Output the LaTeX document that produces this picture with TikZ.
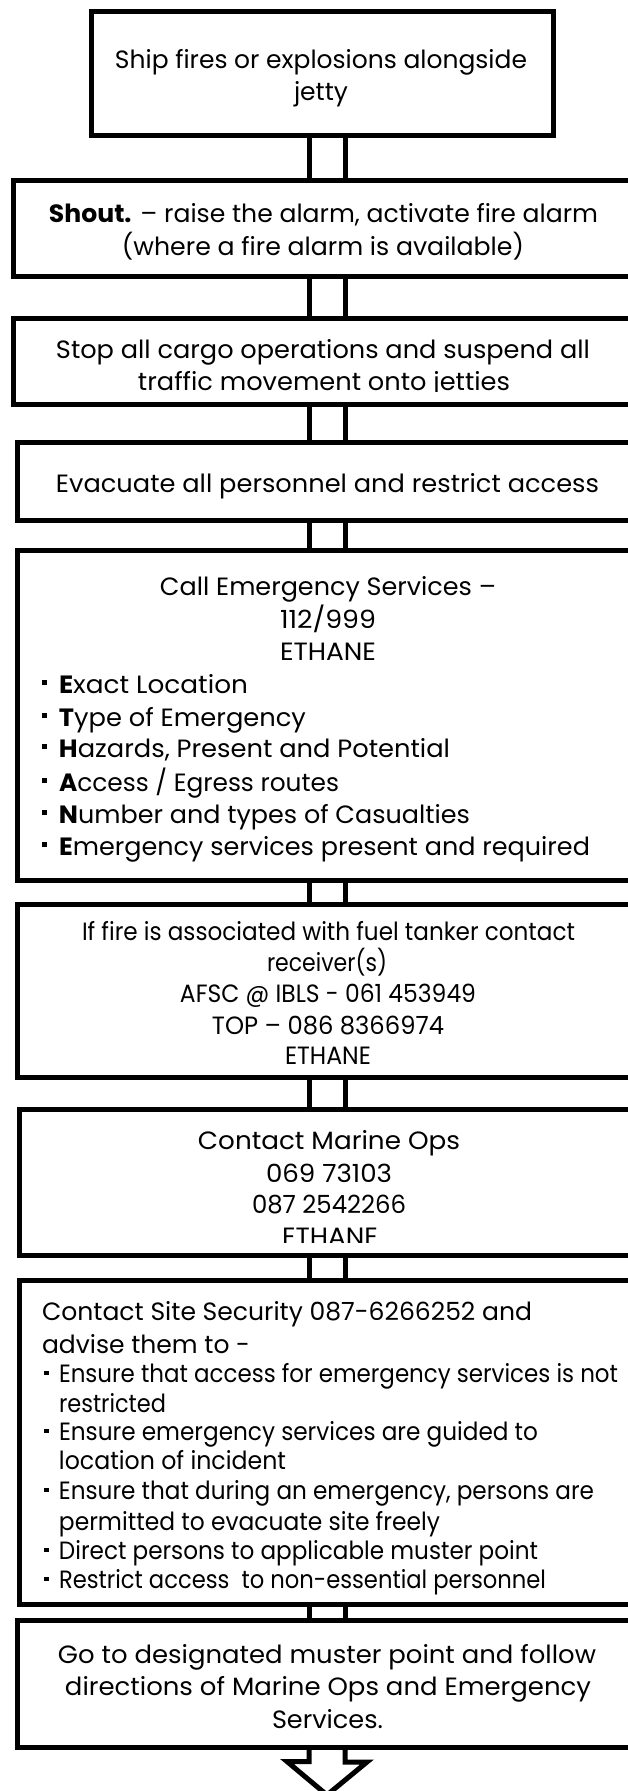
\documentclass[tikz,border=0pt]{standalone}
\usepackage{fontspec}
\usepackage{graphicx}
\setmainfont{Poppins}
\newcommand\flowbox[5]{\node[box, minimum width={(#4)-(#2)}, minimum height={(#5)-(#3)}] (#1) at ({((#2)+(#4))/2},{((#3)+(#5))/2}) {};}
\newcommand\tline[4]{\node[txt, anchor=base] (#1) at (#2) {\resizebox{#3pt}{\height}{#4}};}
\newcommand\lline[4]{\node[txt, anchor=base west] (#1) at (#2) {\resizebox{#3pt}{\height}{#4}};}
\newcommand\bline[5]{\node[txt, anchor=base west] (#1) at (#2) {#5\resizebox{#3pt}{\height}{#4}};}
\newcommand\bigbul{\llap{\rule[8pt]{5pt}{5pt}\hspace{12pt}}}
\newcommand\smbul{\llap{\rule[7pt]{4.5pt}{4.5pt}\hspace{10.5pt}}}
\tikzset{
  box/.style={draw, line width=5pt, inner sep=0pt, outer sep=0pt, fill=white},
  txt/.style={inner sep=0pt, outer sep=0pt, font=\fontsize{25}{30}\selectfont},
  mid/.style={font=\fontsize{22}{27}\selectfont},
  sml/.style={font=\fontsize{19.5}{24}\selectfont},
  conn/.style={line width=5pt, line join=miter}
}
\begin{document}
\begin{tikzpicture}[x=1pt,y=-1pt]
\useasboundingbox (0,0) rectangle (628,1791);
\begin{scope}
\clip (0,0) rectangle (628,1791);
\flowbox{b1}{91}{11.5}{553}{135.5}
\flowbox{b2}{13.5}{180.5}{640.5}{276}
\flowbox{b3}{13.5}{318}{640.5}{404}
\flowbox{b4}{17.5}{442}{636.5}{520.5}
\flowbox{b5}{17.5}{550}{636.5}{880}
\flowbox{b6}{17.5}{904}{636.5}{1077}
\flowbox{b7}{19.5}{1109}{634.5}{1255.5}
\flowbox{b8}{19.5}{1280}{634.5}{1604}
\flowbox{b9}{17.5}{1620.5}{636.5}{1747}
\coordinate (SL) at (309,0);
\coordinate (SR) at (345,0);
\coordinate (tip) at (327,1795);
\foreach \a/\b in {b1/b2,b2/b3,b3/b4,b4/b5,b5/b6,b6/b7,b7/b8,b8/b9}{
  \draw[conn] (\a.south -| SL) -- (\b.north -| SL);
  \draw[conn] (\a.south -| SR) -- (\b.north -| SR);
}
\draw[conn] (b9.south -| SL) -- ++(0,14.5) -- ++(-22,0) -- (tip) -- ++(40,-33) -- ++(-22,0) -- (b9.south -| SR);
% box 1
\tline{t1a}{321,68}{412}{Ship fires or explosions alongside}
\tline{t1b}{321,100}{54}{jetty}
% box 2
\tline{t2a}{323.5,222}{549}{\textbf{Shout.} – raise the alarm, activate fire alarm}
\tline{t2b}{323,255}{402}{(where a fire alarm is available)}
% box 3
\tline{t3a}{323,358}{534}{Stop all cargo operations and suspend all}
\begin{scope}
\clip (0,0) rectangle (628,391.5);
\tline{t3b}{324,390}{372}{traffic movement onto jetties}
\end{scope}
% box 4
\tline{t4a}{327.5,492}{543}{Evacuate all personnel and restrict access}
% box 5
\tline{t5a}{328,595}{336}{Call Emergency Services –}
\tline{t5b}{328,628}{96}{112/999}
\tline{t5c}{328,660}{96}{ETHANE}
\bline{t5d}{59,693}{189}{\textbf{E}xact Location}{\bigbul}
\bline{t5e}{59,726}{247}{\textbf{T}ype of Emergency}{\bigbul}
\bline{t5f}{59,757}{391}{\textbf{H}azards, Present and Potential}{\bigbul}
\bline{t5g}{59,791}{280}{\textbf{A}ccess / Egress routes}{\bigbul}
\bline{t5h}{59,823}{411}{\textbf{N}umber and types of Casualties}{\bigbul}
\bline{t5i}{59,855}{531}{\textbf{E}mergency services present and required}{\bigbul}
% box 6
\begin{scope}[every node/.append style={mid}]
\tline{t6a}{328.5,940}{493}{If fire is associated with fuel tanker contact}
\tline{t6b}{327,971}{120}{receiver(s)}
\tline{t6c}{328,1002}{296}{AFSC @ IBLS - 061 453949}
\tline{t6d}{328,1034}{232}{TOP – 086 8366974}
\tline{t6e}{328,1064}{86}{ETHANE}
\end{scope}
% box 7
\tline{t7a}{329,1149}{262}{Contact Marine Ops}
\tline{t7b}{329,1182}{126}{069 73103}
\tline{t7c}{329,1213}{154}{087 2542266}
\begin{scope}
\clip (0,0) rectangle (628,1242.5);
\tline{t7d}{330,1245.5}{96}{ETHANE}
\end{scope}
% box 8
\lline{t8a}{42,1320}{490}{Contact Site Security 087-6266252 and}
\lline{t8b}{42,1353}{208}{advise them to -}
\begin{scope}[every node/.append style={sml}]
\bline{t8c}{59,1382}{559}{Ensure that access for emergency services is not}{\smbul}
\lline{t8d}{59,1412}{107}{restricted}
\bline{t8e}{59,1440}{479}{Ensure emergency services are guided to}{\smbul}
\lline{t8f}{59,1469}{227}{location of incident}
\bline{t8g}{59,1499}{535}{Ensure that during an emergency, persons are}{\smbul}
\lline{t8h}{59,1530}{381}{permitted to evacuate site freely}
\bline{t8i}{59,1559}{479}{Direct persons to applicable muster point}{\smbul}
\bline{t8j}{59,1588}{487}{Restrict access\ \ to non-essential personnel}{\smbul}
\end{scope}
% box 9
\tline{t9a}{327,1663}{538}{Go to designated muster point and follow}
\tline{t9b}{328,1695}{526}{directions of Marine Ops and Emergency}
\tline{t9c}{327.5,1728}{111}{Services.}
\end{scope}
\end{tikzpicture}
\end{document}
